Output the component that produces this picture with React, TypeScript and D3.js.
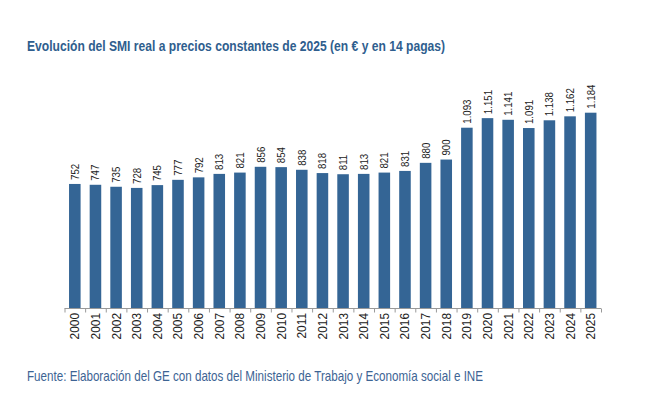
import React, { useRef, useEffect } from "react";
import { select, scaleBand, scaleLinear, axisBottom } from "d3";

const years = [
  "2000", "2001", "2002", "2003", "2004", "2005", "2006", "2007", "2008", "2009",
  "2010", "2011", "2012", "2013", "2014", "2015", "2016", "2017", "2018", "2019",
  "2020", "2021", "2022", "2023", "2024", "2025",
];
const smi = [
  752, 747, 735, 728, 745, 777, 792, 813, 821, 856,
  854, 838, 818, 811, 813, 821, 831, 880, 900, 1093,
  1151, 1141, 1091, 1138, 1162, 1184,
];

const title = "Evolución del SMI real a precios constantes de 2025 (en € y en 14 pagas)";
const source = "Fuente: Elaboración del GE con datos del Ministerio de Trabajo y Economía social e INE";

// thousands with a dot, spanish style
const fmt = (v: number) => {
  const s = String(v);
  return s.length > 3 ? s.slice(0, s.length - 3) + "." + s.slice(-3) : s;
};

const App = () => {
  const svgRef = useRef<SVGSVGElement>(null);

  useEffect(() => {
    const svg = select(svgRef.current);
    svg.selectAll("*").remove();

    const x = scaleBand().domain(years).range([64.5, 601]).paddingInner(0.44).paddingOuter(0.22);
    const y = scaleLinear().domain([0, 1184]).range([308, 112.7]);

    svg.append("text")
      .attr("x", 27)
      .attr("y", 51)
      .attr("fill", "#2f5e8e")
      .attr("textLength", 418)
      .attr("lengthAdjust", "spacingAndGlyphs")
      .style("font-family", "'Liberation Sans', sans-serif")
      .style("font-weight", "bold")
      .style("font-size", "15.5px")
      .text(title);

    // bars
    svg.selectAll(".bar")
      .data(smi)
      .join("rect")
      .attr("class", "bar")
      .attr("x", (d, i) => x(years[i])!)
      .attr("width", x.bandwidth())
      .attr("y", d => y(d))
      .attr("height", d => y(0) - y(d))
      .attr("fill", "#346595");

    // value labels, narrowed along the text direction
    svg.selectAll(".val")
      .data(smi)
      .join("text")
      .attr("class", "val")
      .attr("transform", (d, i) => `translate(${x(years[i])! + x.bandwidth() / 2 + 4},${y(d) - 4}) rotate(-90) scale(0.84,1)`)
      .attr("fill", "#222")
      .style("font-family", "'Liberation Sans', sans-serif")
      .style("font-size", "11.5px")
      .text(d => fmt(d));

    // axis with ticks at band edges
    const edge = scaleLinear().domain([0, years.length]).range([64.5, 601]);
    const ax = axisBottom(edge).tickValues(years.map((_, i) => i).concat([years.length])).tickSize(4).tickFormat(() => "");
    const g = svg.append("g").attr("transform", "translate(0,308.5)").call(ax);
    g.select(".domain").attr("stroke", "#999").attr("d", "M64.5,0H601");
    g.selectAll(".tick line").attr("stroke", "#999");

    svg.selectAll(".yr")
      .data(years)
      .join("text")
      .attr("class", "yr")
      .attr("transform", d => `translate(${x(d)! + x.bandwidth() / 2 + 4.5},313) rotate(-90) scale(0.95,1)`)
      .attr("text-anchor", "end")
      .attr("fill", "#222")
      .style("font-family", "'Liberation Sans', sans-serif")
      .style("font-size", "12.5px")
      .text(d => d);

    svg.append("text")
      .attr("x", 27)
      .attr("y", 381)
      .attr("fill", "#3d6494")
      .attr("textLength", 456)
      .attr("lengthAdjust", "spacingAndGlyphs")
      .style("font-family", "'Liberation Sans', sans-serif")
      .style("font-size", "14.5px")
      .text(source);
  }, []);

  return (
    <div style={{ position: "absolute", left: 0, top: 0 }}>
      <svg ref={svgRef} width={672} height={394} style={{ display: "block", background: "#fff" }} />
    </div>
  );
};

export default App;
